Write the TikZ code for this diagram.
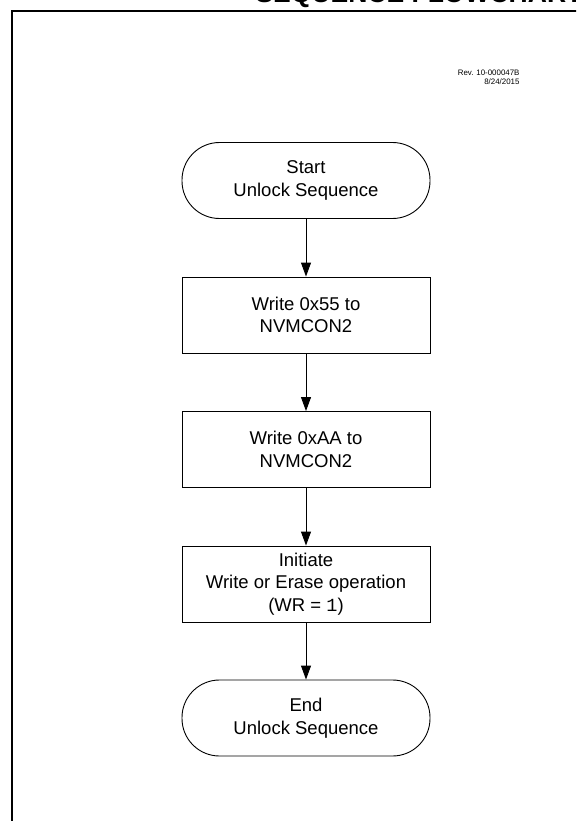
\documentclass[tikz,border=0pt]{standalone}
\usepackage{fontspec}
\setmainfont{Liberation Sans}
\setmonofont{Liberation Mono}
\usetikzlibrary{arrows.meta}

\begin{document}
\begin{tikzpicture}[x=1pt, y=-1pt,
  every node/.style={font=\fontsize{18.5}{22.5}\selectfont, align=center},
  flowbox/.style={draw, line width=0.9pt, minimum width=248pt, minimum height=76pt, inner sep=0pt},
  terminal/.style={flowbox, rounded corners=37.5pt},
  flowarrow/.style={-{Triangle[length=14pt,width=10pt]}, line width=0.9pt}]
\useasboundingbox (0,0) rectangle (576,821);
\clip (0,0) rectangle (576,821);
% frame and heading
\draw[line width=2.2pt] (12,830) -- (12,11.2) -- (590,11.2);
\node[anchor=base west, font=\fontsize{26.5}{30}\selectfont\bfseries] (title) at (252,3) {SEQUENCE FLOWCHART};
\node[anchor=base east, font=\fontsize{7.9}{8.5}\selectfont, align=right] (rev) at (523,84.5) {Rev. 10-000047B\\8/24/2015};
% flow
\node[terminal] (start) at (306,180.5) {Start\\Unlock Sequence};
\node[flowbox] (w55) at (306,315) {Write 0x55 to\\NVMCON2};
\node[flowbox] (wAA) at (306,449.5) {Write 0xAA to\\NVMCON2};
\node[flowbox] (init) at (306,584) {Initiate\\Write or Erase operation\\(WR = \texttt{1})};
\node[terminal] (stop) at (306,718) {End\\Unlock Sequence};
\path[flowarrow] (start) edge (w55);
\path[flowarrow] (w55) edge (wAA);
\path[flowarrow] (wAA) edge (init);
\path[flowarrow] (init) edge (stop);
\end{tikzpicture}
\end{document}
